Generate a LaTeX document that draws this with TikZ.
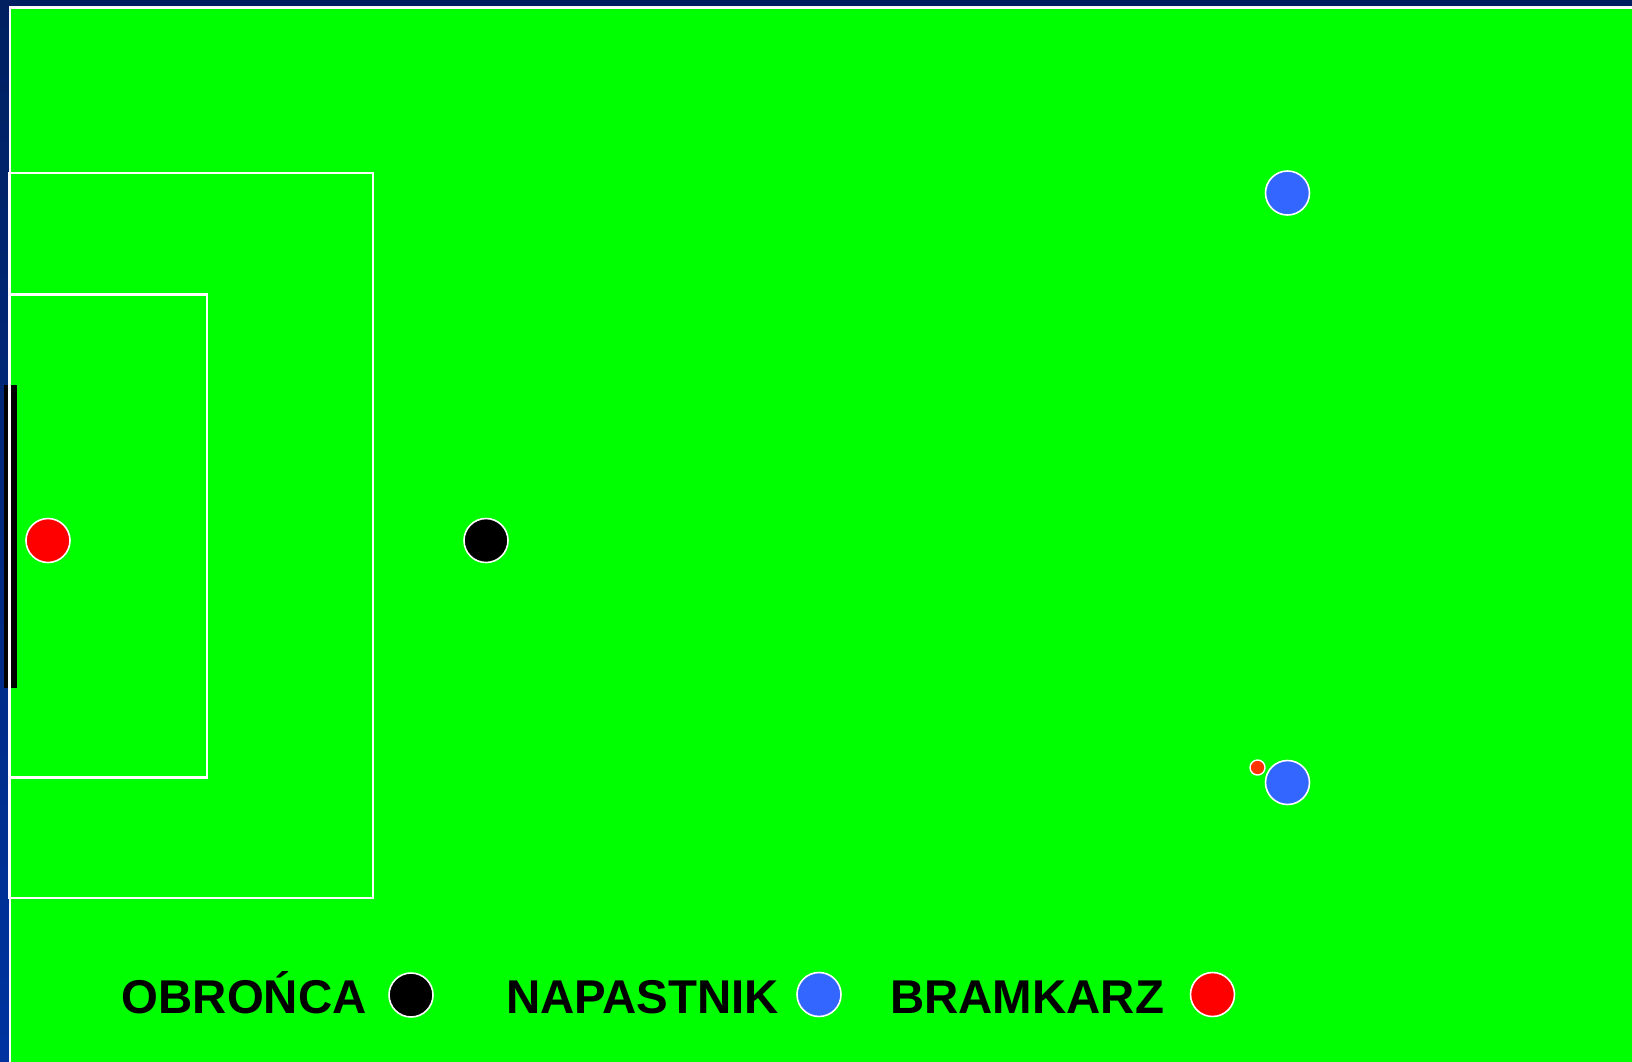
\documentclass[tikz,border=0pt]{standalone}
\usepackage{fontspec}
\setmainfont{Liberation Sans}
\definecolor{navytop}{HTML}{002060}
\definecolor{navybot}{HTML}{0033A0}
\definecolor{pitch}{HTML}{00FF00}
\definecolor{blueplayer}{HTML}{3366FF}
\definecolor{ballred}{HTML}{FF3300}
\tikzset{
  player/.style={circle, draw=white, line width=1.6pt, minimum size=44pt, inner sep=0pt},
  fieldline/.style={draw=white, line width=2.6pt},
  legendtext/.style={anchor=base west, inner sep=0pt, font=\fontsize{47.4}{48}\bfseries\selectfont}
}
\begin{document}
\begin{tikzpicture}[x=1pt,y=-1pt]
\useasboundingbox (0,0) rectangle (1632,1061);
% background
\shade[top color=navytop, bottom color=navybot] (0,0) rectangle (1632,1061);
% pitch
\fill[pitch] (10,7) rectangle (1633,1062);
\draw[white, line width=2.4pt] (10,1062) -- (10,7.5) -- (1633,7.5);
% goal
\fill[black] (4,385) rectangle (16.5,688);
\draw[white, line width=2.6pt] (10,380) -- (10,695);
% boxes
\draw[fieldline] (9,173) rectangle (373,898);
\draw[fieldline] (9,294.5) rectangle (207,777.5);
% players
\node[player, fill=red] (gk) at (48,540.5) {};
\node[player, fill=black] (def) at (486,540.5) {};
\node[player, fill=blueplayer] (att1) at (1287.5,193) {};
\node[player, fill=blueplayer] (att2) at (1287.5,782.5) {};
\node[circle, draw=white, line width=1.4pt, fill=ballred, minimum size=15pt, inner sep=0pt] (ball) at (1257.5,767.5) {};
% legend
\node[legendtext] (l1) at (121.5,1013) {OBROŃCA};
\node[player, fill=black] (c1) at (411,995) {};
\node[legendtext] (l2) at (506,1013) {NAPASTNIK};
\node[player, fill=blueplayer] (c2) at (819,994.5) {};
\node[legendtext] (l3) at (890,1013) {BRAMKARZ};
\node[player, fill=red] (c3) at (1212.5,994.5) {};
\end{tikzpicture}
\end{document}
